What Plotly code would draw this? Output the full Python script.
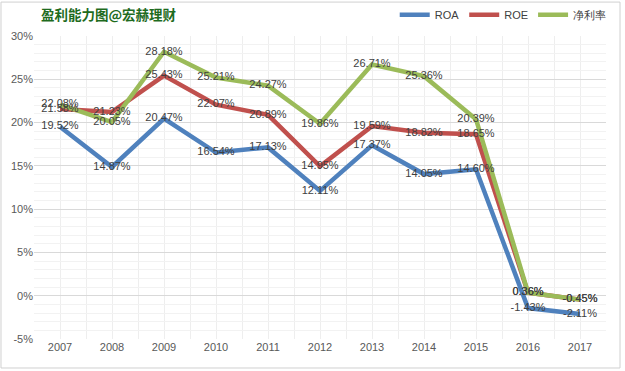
import plotly.graph_objects as go

years = ["2007", "2008", "2009", "2010", "2011", "2012", "2013", "2014", "2015", "2016", "2017"]
roa = [19.52, 14.87, 20.47, 16.54, 17.13, 12.11, 17.37, 14.05, 14.60, -1.43, -2.11]
roe = [21.58, 21.23, 25.43, 22.07, 20.89, 14.95, 19.59, 18.82, 18.65, 0.36, -0.45]
npm = [22.08, 20.05, 28.18, 25.21, 24.27, 19.86, 26.71, 25.36, 20.39, 0.36, -0.45]
y_ticks = [-5, 0, 5, 10, 15, 20, 25, 30]

series = [("ROA", roa, "#4f81bd"), ("ROE", roe, "#c0504d"), ("净利率", npm, "#9bbb59")]
xs = list(range(len(years)))

fig = go.Figure()
for name, vals, col in series:
    fig.add_trace(go.Scatter(x=xs, y=vals, mode="lines", name=name,
                             line=dict(color=col, width=4.5)))
for name, vals, col in series:
    fig.add_trace(go.Scatter(x=xs, y=vals, mode="text", showlegend=False,
                             text=[f"{v:.2f}%" for v in vals],
                             textposition="middle center",
                             textfont=dict(family="Liberation Sans", size=11, color="#404040"),
                             hoverinfo="skip"))

fig.update_layout(
    width=625, height=371,
    margin=dict(l=34, r=19, t=36, b=32, autoexpand=False),
    paper_bgcolor="white", plot_bgcolor="white",
    title=dict(text="<b>盈利能力图@宏赫理财</b>", x=41/625, xanchor="left", y=1-15/371, yanchor="middle",
               font=dict(family="Noto Sans CJK SC", size=13.5, color="#1e6b1e")),
    legend=dict(orientation="h", x=1.01, xanchor="right", y=1.07, yanchor="middle",
                font=dict(family="Liberation Sans", size=11, color="#404040"),
                itemwidth=30, tracegroupgap=0, bgcolor="rgba(0,0,0,0)"),
    xaxis=dict(tickmode="array", tickvals=xs, ticktext=years, range=[-0.5, len(years) - 0.5],
               showgrid=False, zeroline=False, showline=False, ticks="", automargin=False,
               tickfont=dict(family="Liberation Sans", size=11, color="#595959"),
               minor=dict(dtick=0.5, tick0=-0.5, showgrid=True, gridcolor="#eeeeee", gridwidth=1)),
    yaxis=dict(tickmode="array", tickvals=y_ticks, ticktext=[f"{t}%" for t in y_ticks],
               range=[-5, 30], showgrid=True, gridcolor="#d9d9d9", gridwidth=1,
               zeroline=False, showline=False, ticks="", automargin=False,
               tickfont=dict(family="Liberation Sans", size=11, color="#595959"),
               minor=dict(dtick=1, showgrid=True, gridcolor="#f2f2f2", gridwidth=1)),
    shapes=[dict(type="rect", xref="paper", yref="paper",
                 x0=-0.0577, x1=1.0245, y0=-0.0957, y1=1.112,
                 line=dict(color="#d0d0d0", width=1), layer="below")],
)

fig.write_html("out.html", config={"displayModeBar": False},
               post_script="document.body.style.margin='0';")
